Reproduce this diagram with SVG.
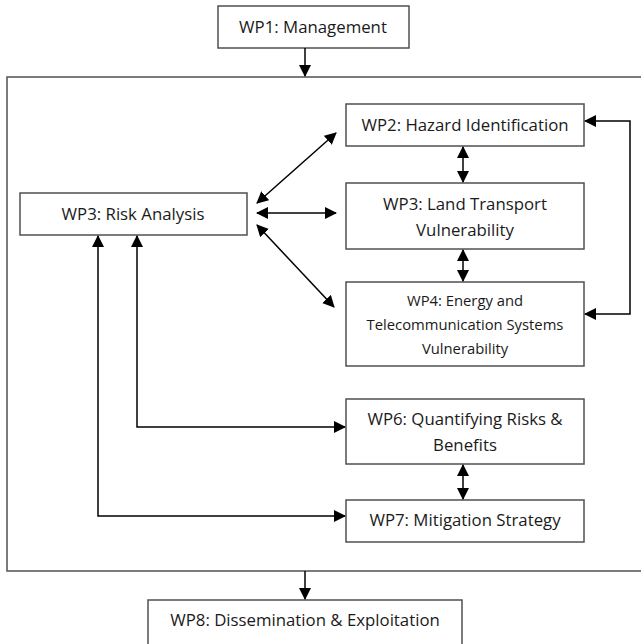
<svg xmlns="http://www.w3.org/2000/svg" width="641" height="644" viewBox="0 0 641 644">
<defs>
<marker id="ah" markerWidth="12" markerHeight="12" refX="11" refY="6" orient="auto-start-reverse" markerUnits="userSpaceOnUse">
<path d="M0,0 L12,6 L0,12 Z" fill="#000"/>
</marker>
<style>
.box{fill:#fff;stroke:#505050;stroke-width:1.5}
.c{fill:none;stroke:#000;stroke-width:1.5}
text{font-family:"Open Sans","Liberation Sans",sans-serif;font-size:16.8px;fill:#1a1a1a;text-anchor:middle}
.s{font-size:14.8px}
</style>
</defs>
<rect width="641" height="644" fill="#fff"/>
<g id="container"><rect class="box" x="7" y="77" width="640" height="494"/></g>
<g id="wp1"><rect class="box" x="218" y="6" width="191" height="42"/><text x="313" y="33">WP1: Management</text></g>
<g id="wp2"><rect class="box" x="346" y="104" width="238" height="42"/><text x="465" y="131">WP2: Hazard Identification</text></g>
<g id="wp3lt"><rect class="box" x="346" y="183" width="238" height="66"/><text x="465" y="210">WP3: Land Transport</text><text x="465" y="236">Vulnerability</text></g>
<g id="wp4"><rect class="box" x="346" y="282" width="238" height="84"/><text class="s" x="465" y="306">WP4: Energy and</text><text class="s" x="465" y="330">Telecommunication Systems</text><text class="s" x="465" y="354">Vulnerability</text></g>
<g id="wp3ra"><rect class="box" x="20" y="193" width="227" height="42"/><text x="133" y="220">WP3: Risk Analysis</text></g>
<g id="wp6"><rect class="box" x="346" y="399" width="238" height="65"/><text x="465" y="425">WP6: Quantifying Risks &amp;</text><text x="465" y="451">Benefits</text></g>
<g id="wp7"><rect class="box" x="346" y="500" width="238" height="42"/><text x="465" y="526">WP7: Mitigation Strategy</text></g>
<g id="wp8"><rect class="box" x="148" y="600" width="314" height="50"/><text x="305" y="626">WP8: Dissemination &amp; Exploitation</text></g>
<g id="connectors">
<path class="c" d="M305,48 V76" marker-end="url(#ah)"/>
<path class="c" d="M305,571 V599" marker-end="url(#ah)"/>
<path class="c" d="M257,203 L336,133" marker-start="url(#ah)" marker-end="url(#ah)"/>
<path class="c" d="M257,213 H336" marker-start="url(#ah)" marker-end="url(#ah)"/>
<path class="c" d="M257,225 L334,307" marker-start="url(#ah)" marker-end="url(#ah)"/>
<path class="c" d="M463,147 V182" marker-start="url(#ah)" marker-end="url(#ah)"/>
<path class="c" d="M463,250 V281" marker-start="url(#ah)" marker-end="url(#ah)"/>
<path class="c" d="M463,465 V499" marker-start="url(#ah)" marker-end="url(#ah)"/>
<path class="c" d="M585,121 H630 V314 H585" marker-start="url(#ah)" marker-end="url(#ah)"/>
<path class="c" d="M345,427 H137 V236" marker-start="url(#ah)" marker-end="url(#ah)"/>
<path class="c" d="M345,516 H98 V236" marker-start="url(#ah)" marker-end="url(#ah)"/>
</g>
</svg>
